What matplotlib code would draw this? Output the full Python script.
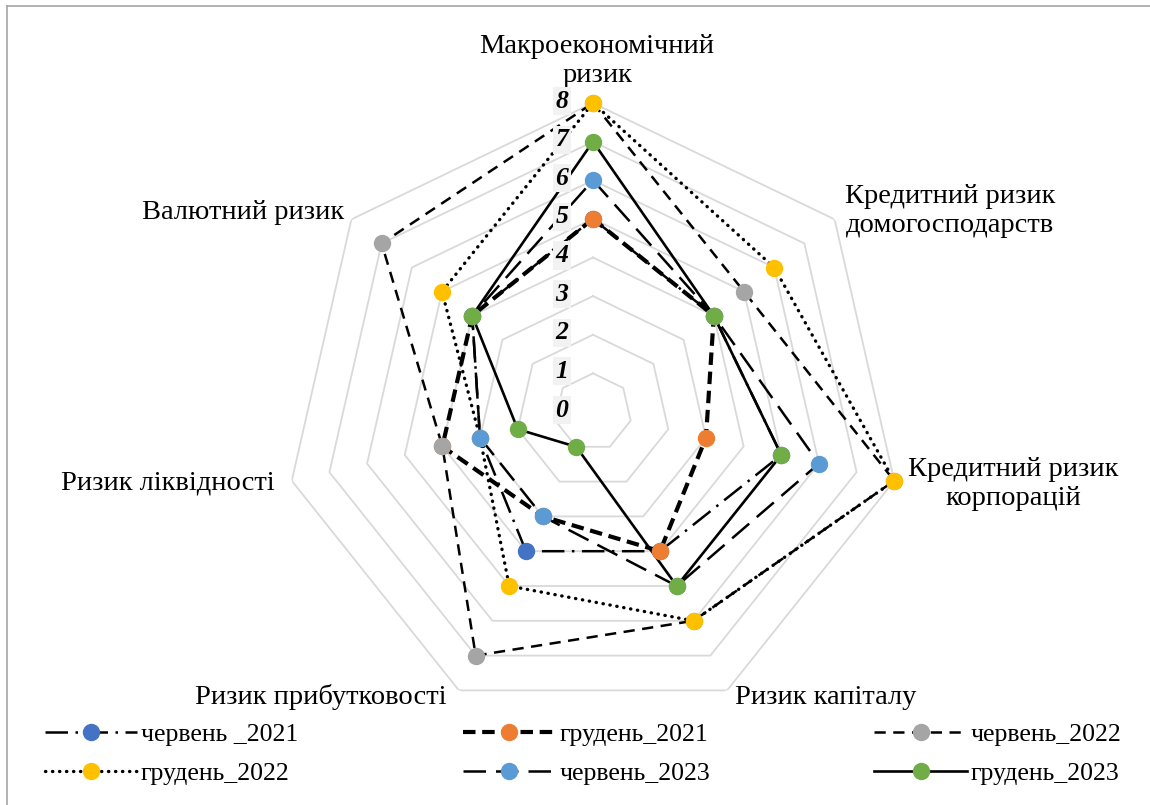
"""Radar chart: financial stability risk assessment by period."""

import matplotlib

matplotlib.use("Agg")
import matplotlib.pyplot as plt
import numpy as np
from matplotlib.lines import Line2D

plt.rcParams["font.family"] = ["Liberation Serif", "DejaVu Serif"]

categories = [
    "Макроекономічний\nризик",
    "Кредитний ризик\nдомогосподарств",
    "Кредитний ризик\nкорпорацій",
    "Ризик капіталу",
    "Ризик прибутковості",
    "Ризик ліквідності",
    "Валютний ризик",
]

series_names = [
    "червень _2021",
    "грудень_2021",
    "червень_2022",
    "грудень_2022",
    "червень_2023",
    "грудень_2023",
]

jun_2021 = [5, 4, 5, 4, 4, 3, 4]
dec_2021 = [5, 4, 3, 4, 3, 4, 4]
jun_2022 = [8, 5, 8, 6, 7, 4, 7]
dec_2022 = [8, 6, 8, 6, 5, 3, 5]
jun_2023 = [6, 4, 6, 5, 3, 3, 4]
dec_2023 = [7, 4, 5, 5, 1, 2, 4]

ticks = list(range(0, 9))

series_values = [jun_2021, dec_2021, jun_2022, dec_2022, jun_2023, dec_2023]
marker_colors = ["#4472C4", "#ED7D31", "#A5A5A5", "#FFC000", "#5B9BD5", "#70AD47"]
line_styles = [
    dict(lw=1.8, dashes=(9, 3, 1, 3)),
    dict(lw=3.0, dashes=(3, 1.6)),
    dict(lw=1.8, dashes=(4.5, 3)),
    dict(lw=2.4, dashes=(0.1, 2.0), dash_capstyle="round"),
    dict(lw=1.8, dashes=(9, 4)),
    dict(lw=1.9, linestyle="-"),
]

n = len(categories)
theta = np.linspace(0, 2 * np.pi, n, endpoint=False)
theta_closed = np.append(theta, theta[0])

W, H = 1150, 805
fig = plt.figure(figsize=(W / 100, H / 100), dpi=100)

# chart area border (only top and left edges show)
fig.add_artist(Line2D([7 / W, 7 / W], [0, 1 - 6 / H], color="#a6a6a6", lw=1.2))
fig.add_artist(Line2D([7 / W, 1], [1 - 6 / H, 1 - 6 / H], color="#a6a6a6", lw=1.2))

cx, cy, R = 593, 412, 309
ax = fig.add_axes(
    [(cx - R) / W, (H - cy - R) / H, 2 * R / W, 2 * R / H], projection="polar"
)
ax.set_theta_zero_location("N")
ax.set_theta_direction(-1)
ax.set_ylim(0, 8)
ax.grid(False)
ax.spines["polar"].set_visible(False)
ax.set_xticks([])
ax.set_yticks([])
ax.patch.set_alpha(0)

# heptagon gridlines
for k in ticks[1:]:
    ax.plot(theta_closed, [k] * (n + 1), color="#d9d9d9", lw=1.3, zorder=1)

for vals, col, st in zip(series_values, marker_colors, line_styles):
    v = np.append(vals, vals[0])
    ax.plot(theta_closed, v, color="black", zorder=3, solid_joinstyle="miter", **st)
for vals, col in zip(series_values, marker_colors):
    ax.plot(theta, vals, "o", ms=11.5, color=col, mec=col, zorder=5, clip_on=False)

# value labels
for k in ticks:
    ax.annotate(
        str(k),
        xy=(0, k),
        xytext=(-31, 2),
        textcoords="offset pixels",
        ha="center",
        va="center",
        fontsize=18.5,
        fontweight="bold",
        fontstyle="italic",
        bbox=dict(boxstyle="square,pad=0.1", fc="#f2f2f2", ec="none"),
        zorder=4,
    )

# category labels: offset (px) from the outer vertex
lab_pos = [
    ((4, 15), "center", "bottom"),
    ((10, 8), "left", "center"),
    ((14, -3), "left", "center"),
    ((8, -7), "left", "center"),
    ((-12, -7), "right", "center"),
    ((-17, -2), "right", "center"),
    ((-7, 7), "right", "center"),
]
for t, lab, (off, ha, va) in zip(theta, categories, lab_pos):
    ax.annotate(lab, xy=(t, 8), xytext=off, textcoords="offset pixels",
                ha=ha, va=va, fontsize=20.5, multialignment="center",
                linespacing=1.2)

handles = []
for name, col, st in zip(series_names, marker_colors, line_styles):
    handles.append(
        Line2D([], [], color="black", marker="o", ms=11.5, mfc=col, mec=col,
               **st)
    )
# legend fills column-wise; reorder so entries read row by row
order = [0, 3, 1, 4, 2, 5]
fig.legend(
    [handles[i] for i in order],
    [series_names[i] for i in order],
    loc="center",
    bbox_to_anchor=(0.507, 1 - 754 / H),
    ncol=3,
    frameon=False,
    fontsize=18.5,
    handlelength=3.6,
    handletextpad=0.15,
    columnspacing=6.4,
    labelspacing=0.6,
)

fig.savefig("out.png", dpi=100)
